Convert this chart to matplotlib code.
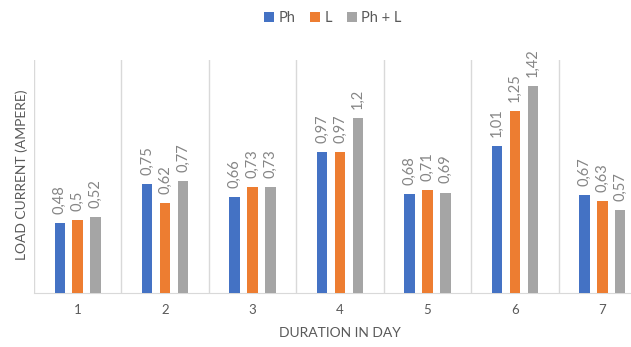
import numpy as np
import matplotlib
matplotlib.use('Agg')
import matplotlib.pyplot as plt

# data
days = [1, 2, 3, 4, 5, 6, 7]
ph = [0.48, 0.75, 0.66, 0.97, 0.68, 1.01, 0.67]
l = [0.5, 0.62, 0.73, 0.97, 0.71, 1.25, 0.63]
ph_l = [0.52, 0.77, 0.73, 1.2, 0.69, 1.42, 0.57]
labels = ['Ph', 'L', 'Ph + L']
colors = ['#4472C4', '#ED7D31', '#A5A5A5']

plt.rcParams['font.family'] = ['Lato', 'DejaVu Sans']
txt = '#595959'

fig = plt.figure(figsize=(6.31, 3.47), dpi=100)
ax = fig.add_axes([34/631, 54/347, 612/631, 233/347])

x = np.arange(len(days))
w, step = 0.12, 0.205
for i, (vals, name, c) in enumerate(zip([ph, l, ph_l], labels, colors)):
  pos = x + (i - 1) * step
  bars = ax.bar(pos, vals, w, color=c, label=name, zorder=3)
  for b, v in zip(bars, vals):
    s = ('%g' % v).replace('.', ',')
    ax.annotate(s, (b.get_x() + b.get_width()/2, v), xytext=(0, 6.5),
                textcoords='offset points', rotation=90, ha='center',
                va='bottom', fontsize=10.5, color='#858585')

ax.set_xlim(-0.5, len(days) - 0.5)
ax.set_ylim(0, 1.6)
ax.set_xticks(x)
ax.set_xticklabels([str(d) for d in days], fontsize=9.5, color=txt)
ax.set_xticks(np.arange(len(days) + 1) - 0.5, minor=True)
ax.tick_params(axis='x', which='both', length=0, pad=8)
ax.set_yticks([])
ax.grid(axis='x', which='minor', color='#D9D9D9', lw=1, zorder=0)
for s in ['top', 'right', 'left']:
  ax.spines[s].set_visible(False)
ax.spines['bottom'].set_color('#D9D9D9')

ax.set_xlabel('DURATION IN DAY', fontsize=10, color=txt, labelpad=8)
fig.text(22/631, 1 - 175/347, 'LOAD CURRENT (AMPERE)', rotation=90,
         ha='center', va='center', fontsize=10, color=txt)

fig.legend(loc='center', bbox_to_anchor=(333/631, 1 - 18/347), ncol=3,
           frameon=False, fontsize=10.5, handlelength=0.7, handleheight=0.7,
           handletextpad=0.3, columnspacing=1.0, labelcolor=txt)

fig.savefig('out.png', dpi=100)
